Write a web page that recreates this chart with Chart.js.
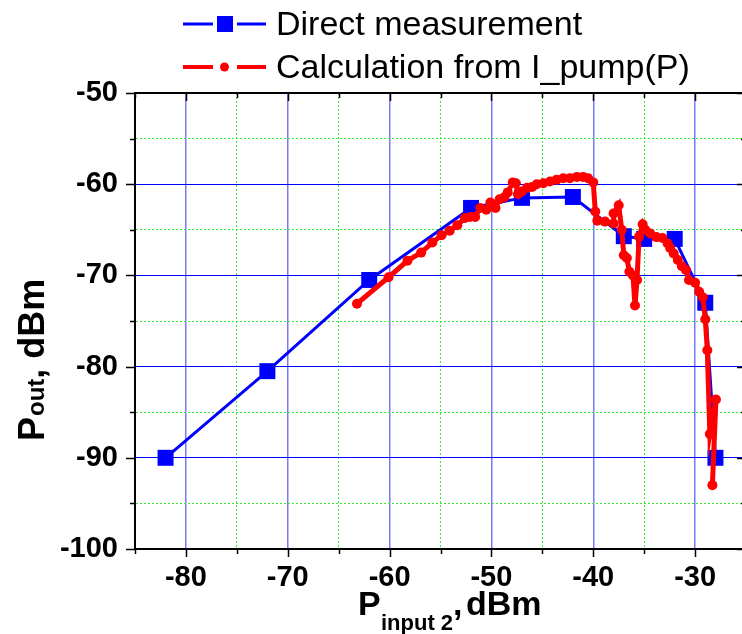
<!DOCTYPE html>
<html>
<head>
<meta charset="utf-8">
<script src="https://cdn.jsdelivr.net/npm/chart.js@4.4.0/dist/chart.umd.min.js"></script>
<style>
  html, body { margin: 0; padding: 0; background: #fff; overflow: hidden; }
  #wrap { width: 742px; height: 634px; overflow: hidden; }
  #chart { display: block; }
</style>
</head>
<body>
<div id="wrap"><canvas id="chart" width="746" height="634"></canvas></div>
<script>
// direct measurement (blue squares)
const directX = [-82, -72, -62, -52, -47, -42, -37, -35, -32, -29, -28];
const directY = [-90, -80.5, -70.5, -62.6, -61.5, -61.4, -65.7, -66.0, -66.0, -73.0, -90.0];

// calculation from I_pump(P) (red dots)
const calcX = [
  -63.2, -60.1, -58.25, -56.9, -55.8, -54.9, -54.1, -53.35, -52.6, -52.1,
  -51.6, -51.1, -50.5, -50.1, -49.6, -49.2, -48.7, -48.4, -47.9, -47.6,
  -47.4, -47.0, -46.5, -46.0, -45.55, -44.9, -44.25, -43.6, -42.95, -42.3,
  -41.6, -41.0, -40.5, -40.0, -39.8, -39.6, -38.85, -38.0, -38.0, -37.5,
  -37.2, -37.0, -36.7, -36.45, -36.1, -35.9, -35.7, -35.5, -35.15, -34.9,
  -34.4, -33.8, -33.2, -32.7, -32.45, -32.1, -31.7, -31.3, -30.9, -30.6,
  -30.0, -29.6, -29.25, -29.0, -28.8, -28.55, -27.95, -28.3
];
const calcY = [
  -73.1, -70.2, -68.4, -67.5, -66.4, -65.6, -65.1, -64.5, -63.7, -63.6,
  -63.6, -62.6, -62.8, -62.0, -62.6, -61.65, -61.4, -60.9, -59.8, -59.9,
  -61.1, -60.8, -60.4, -60.3, -60.0, -59.9, -59.7, -59.5, -59.35, -59.35,
  -59.2, -59.2, -59.35, -59.8, -63.0, -64.0, -64.1, -64.3, -63.2, -62.3,
  -65.0, -67.8, -68.1, -69.6, -70.0, -73.3, -70.5, -65.75, -64.4, -65.0,
  -65.4, -65.8, -65.9, -66.5, -67.0, -67.6, -68.3, -69.0, -69.4, -70.5,
  -70.8, -71.8, -72.4, -74.8, -78.2, -87.4, -83.6, -93.0
];

const xTickLabels = [-80, -70, -60, -50, -40, -30];
const yTickLabels = [-50, -60, -70, -80, -90, -100];
const legendLabels = ["Direct measurement", "Calculation from I_pump(P)"];

const BLUE = "#0000ff";
const RED = "#ff0000";
const GREEN = "#33ee33";
const FONT = "'Liberation Sans', Arial, sans-serif";

const toPoints = (xs, ys) => xs.map((x, i) => ({ x, y: ys[i] }));
const isMajorX = (v) => xTickLabels.includes(v);
const isMajorY = (v) => yTickLabels.includes(v);

const decorPlugin = {
  id: "decor",
  afterDraw(chart) {
    const { ctx, chartArea: a, scales } = chart;
    const xs = scales.x, ys = scales.y;
    ctx.save();

    // frame (right side sits at the clipped edge, like the cropped original)
    ctx.strokeStyle = "#000";
    ctx.lineWidth = 2;
    ctx.strokeRect(a.left, a.top, a.right - a.left, a.bottom - a.top);

    // tick marks: bottom/left outward, top/right inward
    ctx.lineWidth = 1.5;
    ctx.beginPath();
    xs.ticks.forEach((t) => {
      const px = Math.round(xs.getPixelForValue(t.value)) + 0.5;
      const len = isMajorX(t.value) ? 8 : 5;
      ctx.moveTo(px, a.bottom);
      ctx.lineTo(px, a.bottom + len);
      ctx.moveTo(px, a.top);
      ctx.lineTo(px, a.top + len);
    });
    ys.ticks.forEach((t) => {
      const py = Math.round(ys.getPixelForValue(t.value)) + 0.5;
      const len = isMajorY(t.value) ? 9 : 5;
      ctx.moveTo(a.left, py);
      ctx.lineTo(a.left - len, py);
      ctx.moveTo(a.right, py);
      ctx.lineTo(a.right - len, py);
    });
    ctx.stroke();

    // axis titles
    ctx.fillStyle = "#000";
    ctx.textBaseline = "alphabetic";
    ctx.textAlign = "left";
    ctx.font = "bold 34px " + FONT;
    ctx.fillText("P", 358, 615);
    ctx.font = "bold 22px " + FONT;
    ctx.fillText("input 2", 381, 630);
    ctx.font = "bold 34px " + FONT;
    ctx.fillText(",", 453, 615);
    ctx.fillText("dBm", 466, 615);

    ctx.save();
    ctx.translate(44, 441);
    ctx.rotate(-Math.PI / 2);
    ctx.font = "bold 36px " + FONT;
    ctx.fillText("P", 0, 0);
    let w = ctx.measureText("P").width + 1;
    ctx.font = "bold 24px " + FONT;
    ctx.fillText("out", w, 0);
    w += ctx.measureText("out").width;
    ctx.font = "bold 36px " + FONT;
    ctx.fillText(",", w, 0);
    w += ctx.measureText(", ").width;
    ctx.fillText("dBm", w, 0);
    ctx.restore();

    // legend
    const rows = [
      { y: 24, color: BLUE, label: legendLabels[0], square: true },
      { y: 67, color: RED, label: legendLabels[1], square: false },
    ];
    rows.forEach((r) => {
      ctx.strokeStyle = r.color;
      ctx.fillStyle = r.color;
      ctx.lineWidth = r.square ? 3 : 4;
      ctx.beginPath();
      ctx.moveTo(183, r.y);
      ctx.lineTo(213, r.y);
      ctx.moveTo(237, r.y);
      ctx.lineTo(266, r.y);
      ctx.stroke();
      if (r.square) {
        ctx.fillRect(217, r.y - 8, 16, 16);
      } else {
        ctx.beginPath();
        ctx.arc(224.5, r.y, 4.5, 0, Math.PI * 2);
        ctx.fill();
      }
      ctx.fillStyle = "#000";
      ctx.font = "34px " + FONT;
      ctx.fillText(r.label, 276, r.y + 11);
    });

    ctx.restore();
  },
};

new Chart(document.getElementById("chart"), {
  type: "scatter",
  data: {
    datasets: [
      {
        label: legendLabels[1],
        data: toPoints(calcX, calcY),
        showLine: true,
        borderColor: RED,
        backgroundColor: RED,
        borderWidth: 5,
        pointRadius: 5,
        pointStyle: "circle",
        pointBorderWidth: 0,
        order: 0,
      },
      {
        label: legendLabels[0],
        data: toPoints(directX, directY),
        showLine: true,
        borderColor: BLUE,
        backgroundColor: BLUE,
        borderWidth: 3,
        pointRadius: 11.3,
        pointStyle: "rect",
        pointBorderWidth: 0,
        order: 1,
      },
    ],
  },
  options: {
    responsive: false,
    animation: false,
    events: [],
    layout: { autoPadding: false, padding: { left: 0, top: 93, right: 0, bottom: 0 } },
    plugins: {
      legend: { display: false },
      tooltip: { enabled: false },
    },
    scales: {
      x: {
        type: "linear",
        min: -85,
        max: -25,
        afterFit: (scale) => {
          scale.height = 85;
          scale.paddingLeft = 0;
          scale.paddingRight = 0;
        },
        ticks: {
          stepSize: 5,
          autoSkip: false,
          maxRotation: 0,
          padding: 12,
          color: "#000",
          font: { family: FONT, size: 29, weight: "bold" },
          callback: (v) => (isMajorX(v) ? String(v) : ""),
        },
        grid: {
          drawTicks: false,
          color: (c) => (c.tick && isMajorX(c.tick.value) ? "#7878ff" : GREEN),
          lineWidth: (c) => (c.tick && isMajorX(c.tick.value) ? 1.5 : 1),
        },
        border: {
          color: "#000",
          width: 2,
          dash: (c) => (c.tick && !isMajorX(c.tick.value) ? [2, 2] : []),
        },
      },
      y: {
        type: "linear",
        min: -100,
        max: -50,
        afterFit: (scale) => {
          scale.width = 135;
          scale.paddingTop = 0;
          scale.paddingBottom = 0;
        },
        ticks: {
          stepSize: 5,
          autoSkip: false,
          padding: 17,
          color: "#000",
          font: { family: FONT, size: 29, weight: "bold" },
          callback: (v) => (isMajorY(v) ? String(v) : ""),
        },
        grid: {
          drawTicks: false,
          color: (c) => (c.tick && isMajorY(c.tick.value) ? BLUE : GREEN),
          lineWidth: 1,
        },
        border: {
          color: "#000",
          width: 2,
          dash: (c) => (c.tick && !isMajorY(c.tick.value) ? [2, 2] : []),
        },
      },
    },
  },
  plugins: [decorPlugin],
});
</script>
</body>
</html>
